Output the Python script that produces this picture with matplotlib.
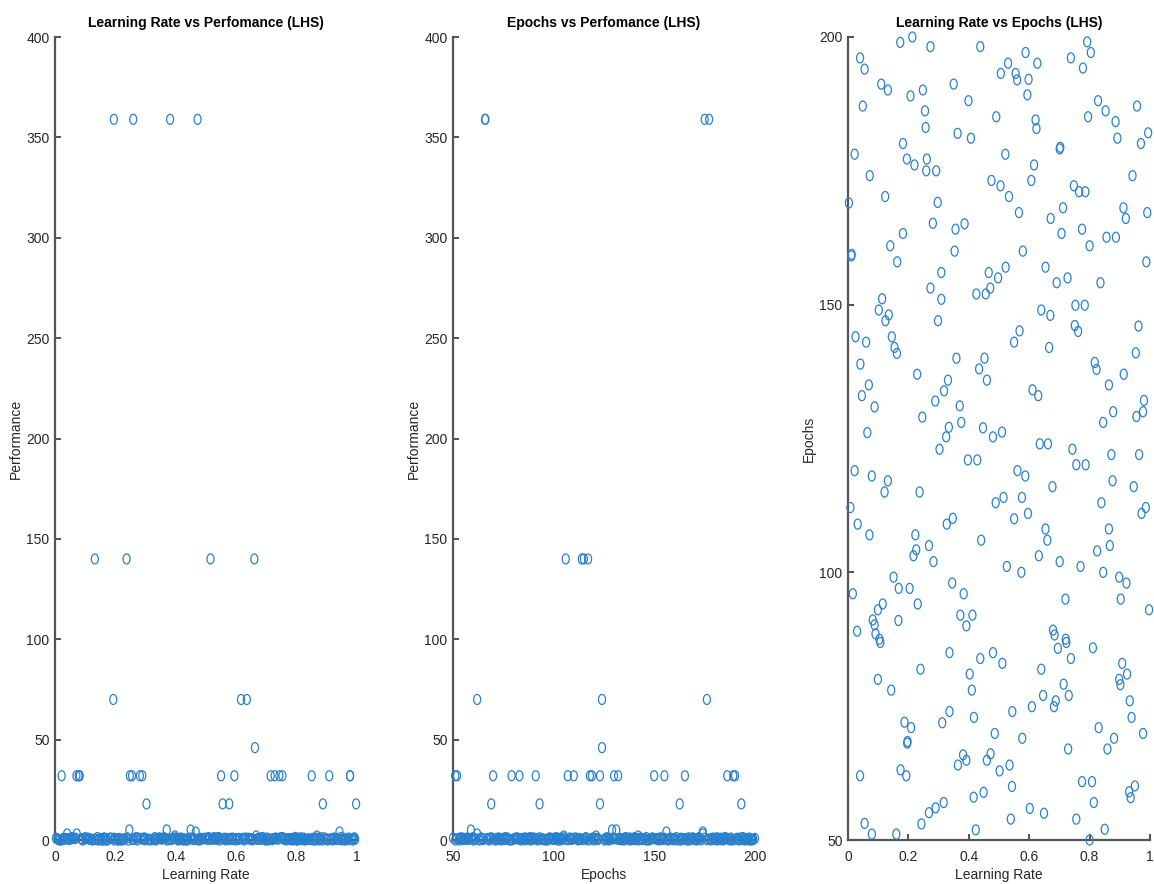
import numpy as np
import matplotlib
matplotlib.use('Agg')
import matplotlib.pyplot as plt
from matplotlib.path import Path

plt.rcParams['font.family'] = ['Liberation Sans', 'DejaVu Sans']

# ---------------- data ----------------
learning_rate = [
    0.173, 0.213, 0.273, 0.438, 0.588, 0.792, 0.804, 0.040, 0.055, 0.738,
    0.627, 0.530, 0.778, 0.506, 0.555, 0.560, 0.598, 0.110, 0.132, 0.248,
    0.350, 0.207, 0.594, 0.399, 0.049, 0.828, 0.853, 0.957, 0.255, 0.491,
    0.795, 0.886, 0.621, 0.624, 0.257, 0.363, 0.407, 0.892, 0.994, 0.970,
    0.182, 0.022, 0.521, 0.701, 0.195, 0.220, 0.261, 0.259, 0.292, 0.616,
    0.072, 0.942, 0.475, 0.505, 0.607, 0.748, 0.765, 0.786, 0.533, 0.003,
    0.123, 0.297, 0.566, 0.712, 0.671, 0.912, 0.920, 0.991, 0.281, 0.356,
    0.386, 0.182, 0.707, 0.775, 0.856, 0.887, 0.140, 0.011, 0.353, 0.579,
    0.800, 0.988, 0.163, 0.309, 0.466, 0.522, 0.497, 0.654, 0.691, 0.727,
    0.836, 0.273, 0.309, 0.425, 0.456, 0.471, 0.113, 0.102, 0.135, 0.124,
    0.640, 0.670, 0.753, 0.784, 0.298, 0.751, 0.762, 0.962, 0.568, 0.550,
    0.025, 0.060, 0.145, 0.154, 0.162, 0.666, 0.953, 0.041, 0.359, 0.452,
    0.434, 0.460, 0.229, 0.817, 0.823, 0.913, 0.864, 0.069, 0.046, 0.088,
    0.331, 0.318, 0.289, 0.370, 0.611, 0.630, 0.246, 0.334, 0.375, 0.447,
    0.878, 0.845, 0.955, 0.977, 0.980, 0.064, 0.480, 0.510, 0.325, 0.303,
    0.635, 0.662, 0.743, 0.872, 0.964, 0.397, 0.428, 0.756, 0.787, 0.022,
    0.079, 0.132, 0.121, 0.237, 0.561, 0.587, 0.677, 0.876, 0.946, 0.008,
    0.489, 0.515, 0.576, 0.839, 0.972, 0.986, 0.032, 0.071, 0.347, 0.327,
    0.550, 0.596, 0.223, 0.268, 0.226, 0.217, 0.283, 0.441, 0.654, 0.660,
    0.864, 0.867, 0.825, 0.632, 0.701, 0.770, 0.845, 0.526, 0.574, 0.151,
    0.168, 0.204, 0.345, 0.383, 0.898, 0.922, 0.016, 0.231, 0.115, 0.099,
    0.082, 0.088, 0.167, 0.372, 0.412, 0.392, 0.720, 0.903, 0.997, 0.030,
    0.091, 0.104, 0.679, 0.684, 0.721, 0.107, 0.695, 0.723, 0.811, 0.336,
    0.438, 0.480, 0.511, 0.738, 0.908, 0.240, 0.099, 0.143, 0.403, 0.410,
    0.640, 0.714, 0.731, 0.898, 0.902, 0.924, 0.933, 0.646, 0.688, 0.682,
    0.609, 0.544, 0.336, 0.312, 0.417, 0.939, 0.187, 0.209, 0.486, 0.577,
    0.830, 0.977, 0.881, 0.859, 0.729, 0.196, 0.381, 0.392, 0.364, 0.472,
    0.460, 0.502, 0.535, 0.174, 0.193, 0.040, 0.775, 0.808, 0.543, 0.449,
    0.416, 0.931, 0.950, 0.936, 0.814, 0.317, 0.290, 0.268, 0.243, 0.602,
    0.649, 0.539, 0.756, 0.055, 0.079, 0.160, 0.423, 0.850, 0.800, 0.703,
    0.012, 0.197,
]

epochs = [
    199.0, 200.0, 198.2, 198.2, 197.1, 199.1, 197.1, 196.1, 194.0, 196.1,
    195.1, 195.1, 194.2, 193.2, 193.2, 192.0, 192.1, 191.2, 190.1, 190.1,
    191.2, 189.0, 189.2, 188.1, 187.1, 188.1, 186.2, 187.1, 186.2, 185.1,
    185.1, 184.2, 184.5, 182.9, 183.1, 182.0, 181.1, 181.1, 182.1, 180.1,
    180.1, 178.1, 178.1, 179.1, 177.2, 176.1, 177.2, 175.0, 175.0, 176.1,
    174.1, 174.1, 173.2, 172.2, 173.2, 172.2, 171.1, 171.1, 170.2, 169.0,
    170.2, 169.1, 167.2, 168.1, 166.1, 168.1, 166.1, 167.2, 165.2, 164.1,
    165.1, 163.3, 163.3, 164.1, 162.6, 162.6, 161.0, 159.1, 160.0, 160.0,
    161.0, 158.0, 158.0, 156.0, 156.0, 157.0, 155.0, 157.0, 154.1, 155.0,
    154.1, 153.1, 151.0, 152.0, 152.0, 153.1, 151.1, 149.0, 148.1, 147.0,
    149.0, 148.0, 149.9, 149.9, 147.0, 146.1, 145.0, 146.0, 145.1, 143.0,
    144.0, 143.0, 144.0, 142.0, 140.9, 142.0, 141.0, 138.9, 140.0, 140.0,
    138.0, 135.9, 137.0, 139.2, 137.9, 137.0, 135.0, 135.0, 133.0, 130.9,
    135.9, 133.9, 132.0, 131.1, 134.1, 133.0, 129.0, 127.1, 128.0, 127.0,
    130.0, 128.0, 129.1, 130.0, 132.1, 126.1, 125.3, 126.2, 125.3, 123.0,
    124.0, 124.0, 123.0, 122.0, 122.0, 121.0, 121.0, 120.1, 120.1, 119.0,
    118.0, 117.1, 115.0, 115.0, 119.0, 118.0, 116.0, 117.1, 116.0, 112.1,
    113.0, 114.0, 114.0, 113.0, 111.0, 112.1, 109.0, 107.0, 110.1, 109.0,
    110.0, 111.0, 107.0, 105.0, 104.2, 103.1, 102.0, 106.0, 108.1, 106.0,
    108.1, 105.0, 104.0, 103.1, 102.0, 101.1, 100.0, 101.1, 100.0, 99.1,
    97.0, 97.0, 98.0, 96.0, 99.1, 98.0, 96.0, 94.1, 94.1, 93.0,
    91.1, 90.2, 91.0, 92.0, 92.0, 90.0, 95.0, 95.0, 93.0, 89.0,
    88.5, 87.5, 89.2, 88.3, 87.5, 86.9, 85.8, 86.9, 85.9, 85.0,
    83.9, 85.0, 83.0, 83.9, 83.0, 81.9, 80.0, 78.0, 81.0, 78.0,
    81.9, 79.1, 77.0, 80.0, 79.0, 81.0, 76.0, 77.0, 76.0, 74.9,
    74.9, 74.0, 74.0, 71.9, 72.9, 72.9, 72.0, 71.0, 69.9, 69.0,
    71.0, 69.9, 69.0, 67.0, 67.0, 68.1, 65.9, 64.9, 64.0, 66.1,
    64.9, 62.9, 64.0, 63.1, 62.0, 62.0, 60.9, 60.9, 60.0, 58.9,
    58.0, 59.0, 60.1, 57.9, 57.0, 57.0, 56.0, 55.1, 53.0, 55.9,
    55.0, 53.9, 53.9, 53.1, 51.1, 51.1, 51.9, 52.0, 50.0, 179.4,
    159.4, 68.4,
]

performance = [
    0.2, 0.8, 0.0, 0.5, 1.0, 0.3, 0.0, 0.6, 1.2, 0.4,
    0.0, 0.7, 0.2, 1.1, 18, 0.5, 0.0, 0.9, 0.3, 32,
    0.6, 0.1, 32, 1.0, 0.4, 0.0, 0.8, 0.2, 32, 0.6,
    1.3, 0.0, 0.5, 0.9, 0.2, 0.7, 0.0, 1.1, 0.4, 0.3,
    0.8, 0.0, 0.6, 1.0, 359, 0.2, 0.5, 359, 0.9, 70,
    3, 4, 0.1, 0.7, 0.3, 1.2, 0.0, 0.6, 0.4, 0.9,
    0.2, 1.0, 0.0, 0.5, 0.8, 0.3, 0.0, 1.1, 32, 0.6,
    0.4, 0.9, 0.1, 0.7, 0.0, 18, 1.2, 0.3, 0.5, 0.8,
    0.0, 0.6, 1.0, 0.2, 4, 0.4, 0.9, 0.0, 0.7, 32,
    0.3, 1.1, 0.5, 0.0, 0.8, 0.2, 0.6, 1.0, 0.4, 0.0,
    0.9, 0.3, 32, 0.7, 0.1, 1.2, 0.5, 0.0, 0.8, 0.4,
    0.6, 1.0, 0.2, 0.0, 0.9, 2, 0.3, 0.7, 1.1, 0.5,
    0.0, 0.8, 0.4, 0.2, 1.0, 0.6, 0.0, 0.9, 0.3, 0.7,
    1.2, 0.1, 32, 5, 0.5, 0.8, 5, 0.0, 0.4, 1.0,
    0.6, 0.2, 0.9, 32, 0.3, 0.7, 0.0, 1.1, 0.5, 18,
    70, 46, 32, 0.8, 0.2, 2, 0.6, 1.0, 0.0, 32,
    32, 140, 0.4, 140, 0.9, 0.3, 0.7, 0.0, 1.2, 0.5,
    0.8, 140, 0.2, 0.6, 1.0, 0.0, 0.4, 32, 0.9, 0.3,
    32, 0.7, 0.1, 1.1, 0.5, 0.0, 0.8, 0.4, 0.6, 140,
    1.0, 2, 0.2, 0.9, 0.0, 0.7, 0.3, 1.2, 0.5, 0.8,
    0.0, 0.6, 1.0, 0.2, 0.4, 0.9, 0.0, 0.7, 0.3, 1.1,
    32, 0.5, 0.8, 0.0, 0.6, 1.0, 0.2, 0.4, 18, 0.9,
    0.0, 0.7, 0.3, 1.2, 0.5, 0.8, 0.1, 0.6, 1.0, 0.4,
    0.0, 0.9, 0.3, 0.7, 32, 1.1, 0.5, 0.0, 0.8, 0.2,
    0.6, 32, 1.0, 0.4, 0.0, 0.9, 0.3, 0.7, 1.2, 0.5,
    0.8, 0.0, 0.6, 0.2, 1.0, 0.4, 0.9, 0.0, 0.7, 18,
    0.3, 32, 1.1, 0.5, 0.8, 0.0, 359, 0.6, 1.0, 359,
    0.2, 0.4, 0.9, 0.0, 70, 3, 0.7, 0.3, 1.2, 5,
    0.5, 0.8, 0.0, 0.6, 1.0, 0.2, 0.4, 0.9, 0.0, 0.7,
    0.3, 1.1, 0.5, 0.8, 32, 0.0, 0.6, 32, 1.0, 0.4,
    0.2, 0.9,
]

lr_ticks = [0, 0.2, 0.4, 0.6, 0.8, 1]
lr_ticklabels = ['0', '0.2', '0.4', '0.6', '0.8', '1']
ep_ticks = [50, 100, 150, 200]
ep_ticklabels = ['50', '100', '150', '200']
perf_ticks = [0, 50, 100, 150, 200, 250, 300, 350, 400]
perf_ticklabels = ['0', '50', '100', '150', '200', '250', '300', '350', '400']

titles = ['Learning Rate vs Perfomance (LHS)',
          'Epochs vs Perfomance (LHS)',
          'Learning Rate vs Epochs (LHS)']
xlabels = ['Learning Rate', 'Epochs', 'Learning Rate']
ylabels = ['Performance', 'Performance', 'Epochs']

# ---------------- style ----------------
W, H = 1154, 884
fig = plt.figure(figsize=(W / 100, H / 100), dpi=100)
fig.patch.set_facecolor('white')

t = np.linspace(0, 2 * np.pi, 49)
ellipse = Path(np.column_stack([0.7 * np.cos(t), np.sin(t)]), closed=True)

marker_color = '#2a80cc'
axis_color = '#333333'
text_color = '#262626'


def make_axes(left, right, top, bottom):
    return fig.add_axes([left / W, 1 - bottom / H, (right - left) / W, (bottom - top) / H])


def style(ax, xt, xtl, yt, ytl, title, xl, yl):
    for s in ['top', 'right']:
        ax.spines[s].set_visible(False)
    for s in ['left', 'bottom']:
        ax.spines[s].set_color('#555555')
        ax.spines[s].set_linewidth(1.6)
    ax.set_xticks(xt)
    ax.set_xticklabels(xtl)
    ax.set_yticks(yt)
    ax.set_yticklabels(ytl)
    ax.tick_params(direction='in', length=4, width=1.2, color=axis_color,
                   labelcolor=text_color, labelsize=10)
    ax.tick_params(axis='x', pad=7)
    ax.tick_params(axis='y', pad=4)
    ax.set_title(title, fontsize=10, fontweight='bold', color='black', pad=7)
    ax.set_xlabel(xl, fontsize=10, color=text_color, labelpad=3)
    ax.set_ylabel(yl, fontsize=10, color=text_color, labelpad=2)


panels = [(55, 357), (453, 755), (848, 1150)]
top, bottom = 37, 840

ax1 = make_axes(panels[0][0], panels[0][1], top, bottom)
ax1.scatter(learning_rate, performance, s=52, marker=ellipse, facecolors='none',
            edgecolors=marker_color, linewidths=0.9, clip_on=False, zorder=3)
ax1.set_xlim(0, 1)
ax1.set_ylim(0, 400)
style(ax1, lr_ticks, lr_ticklabels, perf_ticks, perf_ticklabels, titles[0], xlabels[0], ylabels[0])

ax2 = make_axes(panels[1][0], panels[1][1], top, bottom)
ax2.scatter(epochs, performance, s=52, marker=ellipse, facecolors='none',
            edgecolors=marker_color, linewidths=0.9, clip_on=False, zorder=3)
ax2.set_xlim(50, 200)
ax2.set_ylim(0, 400)
style(ax2, ep_ticks, ep_ticklabels, perf_ticks, perf_ticklabels, titles[1], xlabels[1], ylabels[1])

ax3 = make_axes(panels[2][0], panels[2][1], top, bottom)
ax3.scatter(learning_rate, epochs, s=52, marker=ellipse, facecolors='none',
            edgecolors=marker_color, linewidths=0.9, clip_on=False, zorder=3)
ax3.set_xlim(0, 1)
ax3.set_ylim(50, 200)
style(ax3, lr_ticks, lr_ticklabels, ep_ticks, ep_ticklabels, titles[2], xlabels[2], ylabels[2])

fig.savefig('out.png', dpi=100, facecolor='white')
